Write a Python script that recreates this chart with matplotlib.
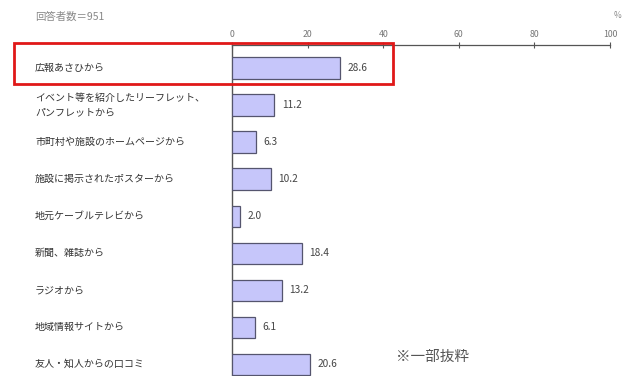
import matplotlib
matplotlib.use('Agg')
import matplotlib.pyplot as plt
import matplotlib.patches as mpatches
import matplotlib.transforms as mtransforms

plt.rcParams['font.family'] = ['Noto Sans CJK JP', 'DejaVu Sans']

# --- data ---
categories = [
    '広報あさひから',
    'イベント等を紹介したリーフレット、\nパンフレットから',
    '市町村や施設のホームページから',
    '施設に掲示されたポスターから',
    '地元ケーブルテレビから',
    '新聞、雑誌から',
    'ラジオから',
    '地域情報サイトから',
    '友人・知人からの口コミ',
]
values = [28.6, 11.2, 6.3, 10.2, 2.0, 18.4, 13.2, 6.1, 20.6]
value_labels = ['28.6', '11.2', '6.3', '10.2', '2.0', '18.4', '13.2', '6.1', '20.6']
xticks = [0, 20, 40, 60, 80, 100]
header = '回答者数＝951'
note = '※一部抜粋'

W, H = 625, 376
fig = plt.figure(figsize=(W / 100, H / 100), dpi=100)
fig.patch.set_facecolor('white')

# axes: x from 232px to 610px, top at 45px, bottom at figure edge
ax = fig.add_axes([232 / W, 0, (610 - 232) / W, (H - 45) / H])
ypos = list(range(len(categories)))
ax.barh(ypos, values, height=0.57, color='#c6c6fa', edgecolor='#55556e',
        linewidth=0.9, zorder=3)
ax.set_xlim(0, 100)
ax.set_ylim(8.32, -0.62)

for y, v, lab in zip(ypos, values, value_labels):
    ax.text(v + 2.0, y, lab, va='center', ha='left', fontsize=7.3,
            color='#444444')

ax.xaxis.tick_top()
ax.set_xticks(xticks)
ax.set_xticklabels([str(t) for t in xticks])
ax.tick_params(axis='x', direction='inout', length=4, width=0.8,
               labelsize=6.3, labelcolor='#777777', color='#555555', pad=2)
ax.set_yticks([])
for s in ('right', 'bottom'):
    ax.spines[s].set_visible(False)
ax.spines['top'].set_color('#555555')
ax.spines['left'].set_color('#555555')
ax.spines['top'].set_linewidth(0.9)
ax.spines['left'].set_linewidth(1.0)

# category labels, left aligned at x=35px
trans = mtransforms.blended_transform_factory(fig.transFigure, ax.transData)
for y, c in zip(ypos, categories):
    ax.text(35 / W, y, c, transform=trans, ha='left', va='center',
            fontsize=7.2, color='#333333', linespacing=1.5)

fig.text(35 / W, 1 - 17 / H, header, ha='left', va='center', fontsize=7.5,
         color='#888888')
fig.text(617 / W, 1 - 16 / H, '%', ha='center', va='center', fontsize=6,
         color='#888888')
fig.text(433 / W, 1 - 357 / H, note, ha='center', va='center', fontsize=10.5,
         color='#555555')

# red highlight box around the first item
rect = mpatches.Rectangle((14 / W, 1 - 84 / H), (393 - 14) / W, (84 - 43) / H,
                          transform=fig.transFigure, fill=False,
                          edgecolor='#e01818', linewidth=2.0, zorder=10)
fig.patches.append(rect)

fig.savefig('out.png', dpi=100)
